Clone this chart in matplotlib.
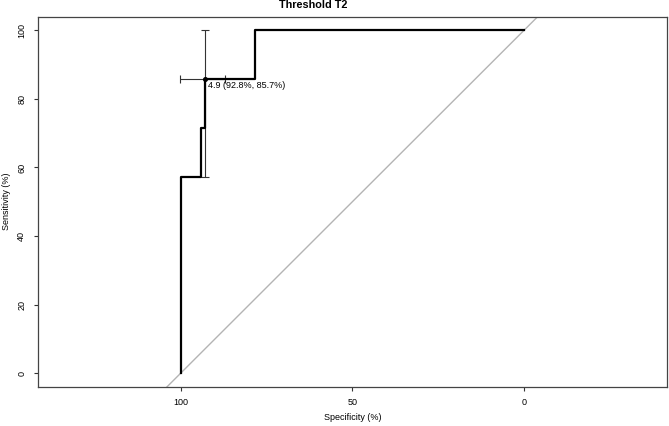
import matplotlib
matplotlib.use("Agg")
import matplotlib.pyplot as plt

plt.rcParams['font.family'] = ['Liberation Sans', 'DejaVu Sans']

# ROC curve (specificity %, sensitivity %)
specificity = [100, 100, 94.2, 94.2, 92.8, 92.8, 78.4, 78.4, 0]
sensitivity = [0, 57.1, 57.1, 71.4, 71.4, 85.7, 85.7, 100, 100]

# best threshold and its confidence intervals
thr_label = "4.9 (92.8%, 85.7%)"
thr_spec, thr_sens = 92.8, 85.7
spec_ci = (98.5, 85.4)
sens_ci = (57.1, 100)

x_ticks = [100, 50, 0]
y_ticks = [0, 20, 40, 60, 80, 100]

fig = plt.figure(figsize=(6.69, 4.26), dpi=100)
ax = fig.add_axes([37.7 / 669, 39 / 426, 629.3 / 669, 370.5 / 426])

ax.set_xlim(141.6, -41.6)
ax.set_ylim(-4, 104)

# chance diagonal
ax.axline((100, 0), (0, 100), color='#b4b4b4', lw=1.0, zorder=1)

ax.plot(specificity, sensitivity, color='black', lw=1.6, zorder=3)

# confidence bars
ax.errorbar([thr_spec], [thr_sens],
            xerr=[[spec_ci[0] - thr_spec], [thr_spec - spec_ci[1]]],
            yerr=[[thr_sens - sens_ci[0]], [sens_ci[1] - thr_sens]],
            fmt='none', ecolor='#333333', elinewidth=0.8, capsize=2.6,
            capthick=0.8, zorder=2)
ax.plot([thr_spec], [thr_sens], 'o', color='black', ms=2.6, zorder=4)
ax.annotate(thr_label, (thr_spec, thr_sens), xytext=(2.5, -1.5),
            textcoords='offset pixels', ha='left', va='top', fontsize=6.5)

ax.set_xticks(x_ticks)
ax.set_xticklabels([str(v) for v in x_ticks])
ax.set_yticks(y_ticks)
ax.set_yticklabels([str(v) for v in y_ticks], rotation=90, va='center')
ax.tick_params(length=3.2, width=0.8, pad=5, labelsize=6.5, color='#333333')

for sp in ax.spines.values():
    sp.set_color('#444444')
    sp.set_linewidth(0.9)

ax.set_xlabel('Specificity (%)', fontsize=6.5)
ax.set_ylabel('Sensitivity (%)', fontsize=6.5)
ax.xaxis.set_label_coords((352.4 - 37.7) / 629.3, (387 - 418) / 370.5)
ax.xaxis.label.set_va('center')
ax.yaxis.set_label_coords((7 - 37.7) / 629.3, 0.5)
ax.yaxis.label.set_va('center')

fig.text(312.8 / 669, 1 - 5.5 / 426, 'Threshold T2', ha='center', va='center',
         fontsize=7.8, fontweight='bold')

fig.savefig('out.png', dpi=100)
